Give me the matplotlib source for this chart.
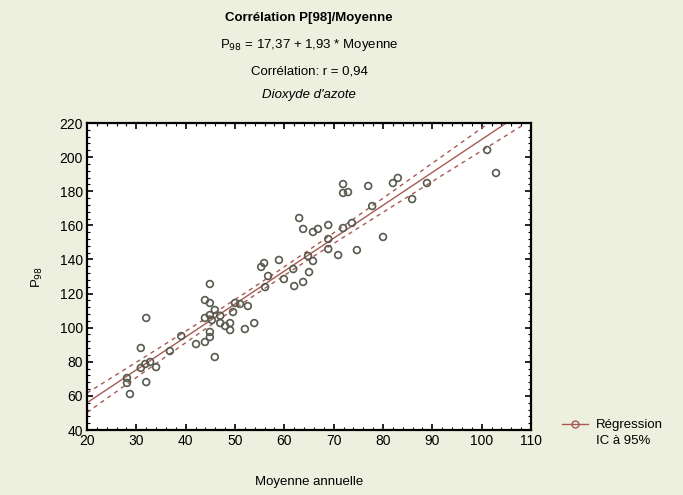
import numpy as np
import matplotlib
matplotlib.use("Agg")
import matplotlib.pyplot as plt
from matplotlib.lines import Line2D

plt.rcParams['font.family'] = ['Liberation Sans', 'DejaVu Sans']

# moyenne annuelle vs P98 (NO2)
moyenne = [28.1, 28.1, 28.7, 30.9, 30.9, 32.0, 32.0, 32.8, 34.0, 31.8,
           36.8, 39.1, 42.1, 43.9, 44.9, 43.9, 44.9, 45.9, 43.9, 44.9,
           45.3, 45.9, 47.0, 48.0, 49.0, 49.0, 44.9, 44.9, 50.0, 51.0,
           49.6, 52.6, 52.0, 53.9, 55.3, 55.9, 56.1, 56.7, 58.9, 61.8,
           65.0, 62.0, 63.8, 63.0, 63.8, 65.8, 66.8, 68.9, 71.9, 73.7,
           68.9, 68.9, 64.8, 65.8, 70.9, 74.7, 71.9, 71.9, 72.9, 77.0,
           77.8, 80.0, 82.0, 83.0, 88.9, 85.9, 101.1, 102.9, 47.0, 59.9]
p98 = [70.5, 67.6, 61.1, 88.1, 76.4, 105.7, 68.1, 79.9, 76.9, 78.7,
       86.3, 95.1, 90.4, 91.6, 125.6, 116.2, 114.5, 82.8, 105.7, 107.4,
       104.5, 110.4, 102.7, 101.0, 102.7, 98.6, 97.5, 94.5, 114.5, 113.9,
       109.2, 112.7, 99.2, 102.7, 135.6, 137.9, 123.8, 130.3, 139.7, 134.4,
       132.6, 124.4, 126.8, 164.3, 157.9, 156.1, 157.9, 160.2, 158.4, 161.4,
       152.0, 146.1, 142.0, 139.1, 142.6, 145.5, 184.2, 179.0, 179.5, 183.1,
       171.3, 153.2, 184.8, 187.8, 184.8, 175.4, 204.2, 190.7, 107.0, 128.5]
a, b = 17.37, 1.93

x = np.array(moyenne)
y = np.array(p98)
n = len(x)
res = y - (a + b * x)
s = np.sqrt(np.sum(res ** 2) / (n - 2))
xx = np.linspace(20, 110, 200)
yy = a + b * xx
half = 1.7 * s * np.sqrt(1 / n + (xx - x.mean()) ** 2 / np.sum((x - x.mean()) ** 2))

bg = "#eef0df"
red = "#a65a52"
fig = plt.figure(figsize=(6.83, 4.95), dpi=100, facecolor=bg)
ax = fig.add_axes([0.1274, 0.1313, 0.6501, 0.6202])
ax.set_facecolor("white")

ax.scatter(x, y, s=24, facecolors="none", edgecolors="#575a4e", linewidths=1.2, zorder=3)
ax.plot(xx, yy, color=red, lw=1.0, zorder=2)
ax.plot(xx, yy + half, color=red, lw=1.0, ls=(0, (3, 3)), zorder=2)
ax.plot(xx, yy - half, color=red, lw=1.0, ls=(0, (3, 3)), zorder=2)

ax.set_xlim(20, 110)
ax.set_ylim(40, 220)
ax.set_xticks(np.arange(20, 111, 10))
ax.set_yticks(np.arange(40, 221, 20))
ax.set_xticks(np.arange(20, 111, 2), minor=True)
ax.set_yticks(np.arange(40, 221, 4), minor=True)
ax.tick_params(which="both", direction="in", top=True, right=True, labelsize=10)
ax.tick_params(which="major", length=4, width=1.2, pad=3)
ax.tick_params(which="minor", length=2, width=0.8)
for sp in ax.spines.values():
    sp.set_linewidth(1.6)

ax.set_xlabel("Moyenne annuelle", fontsize=9.5, labelpad=20)
ax.set_ylabel("P$_{98}$", fontsize=9.5, labelpad=10)

cx = 0.4524
fig.text(cx, 0.963, "Corrélation P[98]/Moyenne", ha="center", va="center", fontsize=9.5, fontweight="bold")
fig.text(cx, 0.909, "P$_{98}$ = 17,37 + 1,93 * Moyenne", ha="center", va="center", fontsize=9.5)
fig.text(cx, 0.855, "Corrélation: r = 0,94", ha="center", va="center", fontsize=9.5)
fig.text(cx, 0.808, "Dioxyde d'azote", ha="center", va="center", fontsize=9.5, style="italic")

h1 = Line2D([], [], color=red, lw=1.0, marker="o", mfc="none", mec=red, ms=5)
h2 = Line2D([], [], color="none")
fig.legend([h1, h2], ["Régression", "IC à 95%"], loc="center left",
           bbox_to_anchor=(0.805, 0.125), frameon=False, fontsize=9.5,
           handlelength=2.0, labelspacing=0.3, handletextpad=0.6)

fig.savefig("out.png", dpi=100, facecolor=bg)
